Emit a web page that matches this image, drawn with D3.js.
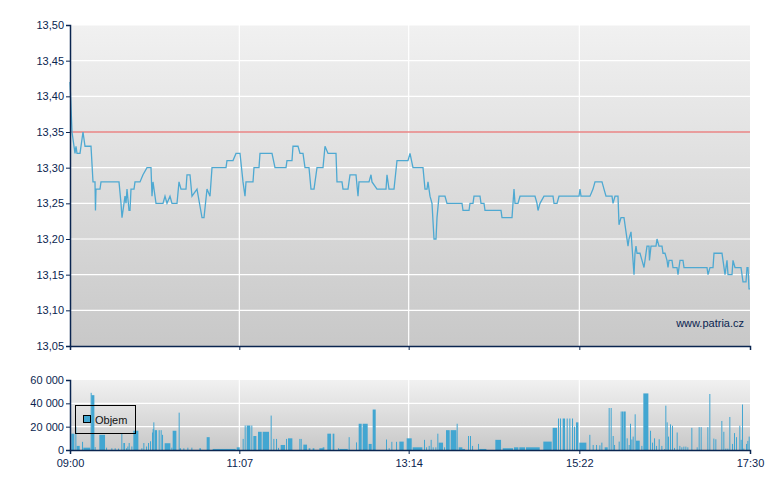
<!DOCTYPE html>
<html><head><meta charset="utf-8">
<script src="https://cdn.jsdelivr.net/npm/d3@7/dist/d3.min.js"></script>
<style>body{margin:0;background:#fff}svg{display:block}text{font-family:"Liberation Sans",Arial,sans-serif;font-size:11px;fill:#0a2550}</style>
</head><body><svg id="c" width="780" height="490"></svg>
<script>
// minutes since 09:00
const priceMinute=[0,1.5,3.75,4.5,5.25,7.5,9,9.75,11.25,15.75,17.25,18.75,19.1,19.5,22.5,23.25,36.75,38.25,39,40.5,41.25,42,42.75,44.25,45,45.75,48,48.75,52.5,54.75,57.75,60.75,61.5,62.25,64.5,69.75,71.25,72.75,75,76.5,80.25,81.75,83.25,87,87.75,90,91.5,95.25,99,100.5,102.75,105,106.5,117,117.75,122.25,124.5,127.5,129.75,130.5,131.25,132,137.25,138,141.75,142.5,151.5,153.75,162,162.75,166.5,167.25,171,172.5,174.75,176.25,179.25,180.75,183,184.5,185.25,189.75,191.25,193.5,199.5,200.25,204,204.75,208.5,210,214.5,216,216.75,224.25,225.75,226.5,230.25,237,237.75,239.25,243,245.25,253.5,255,257.25,264.75,266.25,267.75,268.5,270,271.5,273,274.5,275.25,276.75,281.25,282.75,294,294.75,299.25,300,302.25,303,307.5,308.25,310.5,311.25,323.25,324,331.5,333,333.75,336,337.5,348.75,350.25,351,352.5,355.5,362.25,363,365.25,366.75,381.75,382.5,383.25,390,392.25,393.75,399,400.5,402,406.5,407.25,408.75,411,411.75,413.25,415.5,417,418.5,419.25,420.75,421.5,423,423.75,424.5,425.25,427.5,429,430.5,432.75,434.25,434.6,435.75,439.5,440.25,441.75,444,444.75,446.25,447.75,448.5,449.25,451.5,452.25,455.25,456,457.5,459.75,460.5,477.75,478.5,480,482.25,483,489,489.75,491.25,492.75,493.5,496.5,497.25,498.75,500.25,503.25,504.75,507,507.75,508.5,509.25,510];
const priceValue=[13.42,13.35,13.32,13.33,13.32,13.32,13.34,13.35,13.33,13.33,13.28,13.28,13.24,13.27,13.27,13.28,13.28,13.25,13.23,13.25,13.26,13.25,13.27,13.24,13.24,13.27,13.27,13.28,13.28,13.29,13.30,13.30,13.26,13.28,13.25,13.25,13.26,13.25,13.26,13.25,13.25,13.28,13.27,13.27,13.29,13.29,13.26,13.27,13.23,13.23,13.27,13.26,13.30,13.30,13.31,13.31,13.32,13.32,13.28,13.27,13.26,13.28,13.28,13.30,13.30,13.32,13.32,13.30,13.30,13.31,13.31,13.33,13.33,13.32,13.32,13.30,13.30,13.27,13.27,13.29,13.30,13.30,13.33,13.32,13.32,13.28,13.28,13.27,13.27,13.29,13.29,13.26,13.28,13.28,13.29,13.28,13.27,13.27,13.29,13.27,13.27,13.31,13.31,13.32,13.30,13.30,13.27,13.27,13.28,13.26,13.25,13.20,13.20,13.23,13.26,13.26,13.25,13.25,13.24,13.24,13.25,13.25,13.26,13.26,13.25,13.25,13.24,13.24,13.23,13.23,13.27,13.25,13.25,13.26,13.26,13.25,13.24,13.25,13.26,13.26,13.25,13.25,13.26,13.26,13.27,13.26,13.26,13.27,13.28,13.28,13.27,13.26,13.26,13.25,13.26,13.26,13.22,13.23,13.23,13.21,13.19,13.20,13.21,13.19,13.15,13.18,13.19,13.18,13.18,13.17,13.16,13.19,13.19,13.17,13.19,13.19,13.20,13.19,13.19,13.18,13.18,13.17,13.16,13.17,13.17,13.16,13.16,13.15,13.17,13.17,13.16,13.16,13.15,13.16,13.16,13.18,13.18,13.17,13.15,13.17,13.15,13.15,13.17,13.16,13.16,13.16,13.14,13.14,13.16,13.16,13.13,13.13];
const refPrice=13.35;
const priceTicks=[13.05,13.10,13.15,13.20,13.25,13.30,13.35,13.40,13.45,13.50];
const timeTicks=[0,127,254,382,510];
const timeLabels=["09:00","11:07","13:14","15:22","17:30"];
const volTicks=[0,20000,40000,60000];
// volume bars: from minute, to minute (inclusive), value
const volFrom=[0,1,4,5,9,10,15.5,16,18.5,22,27,31,33.5,36,38.5,40,42,43,44,46,47.5,53.5,55,57,58.5,60,61.5,62,62.5,63.5,66.5,68,69,71,76,77,81.5,82,85,88,91,97,102.5,107,125,129.5,131,132.5,136,137.5,141,144.5,150.5,152.5,154.5,156,158,162,163.5,172,173,175,179,182,187,189.5,193,197,201,202,209,214.5,216.5,219.5,224,227,237,239,241,244.5,247,252.5,257,265.5,267,269,270.5,272,274,275.5,276.5,280.5,282,285.5,290,291.5,293,298.5,300,301.5,306,307,319,324.5,333,337,342,355,362,366,367.5,369.5,372.5,374.5,376.5,378,379.5,382,389.5,392,394.5,397,398.5,401,404,405.5,407,408,411.5,413,414,415,417.5,419,420,421,422,423.5,424.5,428.5,430,435,436.5,438,439.5,441.5,443.5,445.5,446.5,447.5,448.5,450,451.5,453,455,457,458.5,460,461.5,463,466,470,471.5,473,478,479.5,482.5,484,488.5,490,491.5,493,494.5,496.5,498,499.5,502,503,504,505,507,508,509];
const volTo=[0.5,3,4.5,7,9.5,15,15.5,18,19,26,27.5,31.5,34,36.5,38.5,41,42.5,43.5,44.5,46.5,51,54,55.5,57.5,59,60.5,61.5,62,62.5,65,67,68,69.5,75,76.5,79.5,81.5,83,85.5,88.5,91.5,98,104.5,124,127,129.5,131,135,136,139.5,143.5,149,150.5,153,155,156.5,161,162.5,166.5,172,173.5,177.5,180,183,190,190.5,195.5,198,201.5,208,209,214.5,218.5,223,226,229,237,239.5,241,245,250,256,264,265.5,267.5,269.5,270.5,272.5,274.5,275.5,279.5,281,284.5,289.5,290,294,296,298.5,300,302,306,312,323,332,336,341,352,361,365,366,368,371,373,375,377,378.5,381,387,389.5,392.5,395,397.5,399,403,404,405.5,407.5,408.5,412,413,414,416.5,418,419.5,420,421.5,422.5,423.5,427,429,433.5,435.5,437,438.5,440,442,444,446,446.5,447,448,449,450,451.5,453.5,455,456.5,458,459.5,461,462.5,464,468.5,470.5,471.5,477,478.5,481,483,486,488.5,490.5,492,493.5,495.5,497,498,501,502,503.5,504,505.5,507.5,508.5,509.5];
const volValue=[3000,14000,20000,3500,7000,2000,49000,47000,2500,13000,2000,1500,1500,1200,14000,6000,1500,3000,6000,3000,16500,1500,6000,3000,6000,7500,15000,18000,23700,17000,17000,17000,13000,5800,2000,16500,32000,1500,1500,2000,2000,1500,11000,900,2300,9500,21000,21000,21000,12000,15600,15600,29500,9500,9500,1800,4300,9500,10000,9500,9500,4600,1500,1500,1500,2300,14000,14000,1500,900,11000,6500,22500,22500,5200,34700,9000,1500,7000,7000,7200,10000,2300,8700,2300,3500,8700,2300,2300,14000,6300,2300,17000,17000,22500,2300,900,12000,12000,3500,5200,900,8700,1500,2300,2300,2300,7200,19000,27000,27000,27000,27000,27000,27000,20000,23700,6300,13000,4300,4300,4000,6300,2300,36000,36000,12000,4300,7200,33000,33000,33000,10000,4300,22500,9000,11500,30600,8000,3500,48500,16500,6300,10000,3500,9200,3500,700,38000,23700,11500,22000,20800,1800,15000,3500,2300,2900,2900,2300,19000,2300,19600,19600,19600,48000,9800,9200,24900,15600,1200,1200,28300,5200,14500,11000,20800,8700,39000,1200,5200,7800,11500];

const svg=d3.select("#c");
const X0=70,X1=750;
const x=d3.scaleLinear().domain([0,510]).range([X0,X1]);
const y=d3.scaleLinear().domain([13.05,13.50]).range([346,25]);
const yv=d3.scaleLinear().domain([0,60000]).range([450,380]);
const defs=svg.append("defs");
const g=defs.append("linearGradient").attr("id","bg").attr("x1",0).attr("y1",0).attr("x2",0).attr("y2",1);
g.append("stop").attr("offset",0).attr("stop-color","#f1f1f1");
g.append("stop").attr("offset",1).attr("stop-color","#c8c8c8");
svg.append("rect").attr("x",X0).attr("y",25).attr("width",X1-X0).attr("height",321).attr("fill","url(#bg)");
svg.append("rect").attr("x",X0).attr("y",380).attr("width",X1-X0).attr("height",70).attr("fill","url(#bg)");
const grid=svg.append("g").attr("stroke","#fff").attr("stroke-width",1.2);
priceTicks.slice(1).forEach(t=>grid.append("line").attr("x1",X0).attr("x2",X1).attr("y1",y(t)).attr("y2",y(t)));
volTicks.slice(1,3).forEach(t=>grid.append("line").attr("x1",X0).attr("x2",X1).attr("y1",yv(t)).attr("y2",yv(t)));
timeTicks.slice(1,4).forEach(t=>{grid.append("line").attr("x1",x(t)).attr("x2",x(t)).attr("y1",25).attr("y2",346);grid.append("line").attr("x1",x(t)).attr("x2",x(t)).attr("y1",380).attr("y2",450);});
svg.append("line").attr("x1",X0).attr("x2",X1).attr("y1",y(refPrice)).attr("y2",y(refPrice)).attr("stroke","#e04848").attr("stroke-width",1.2);
const pts=priceMinute.map((m,i)=>[m,priceValue[i]]);
svg.append("path").attr("d",d3.line().x(d=>x(d[0])).y(d=>y(d[1]))(pts)).attr("fill","none").attr("stroke","#4ea9d2").attr("stroke-width",1.3);
svg.append("g").selectAll("rect").data(volFrom).join("rect")
 .attr("x",(d,i)=>x(d)).attr("width",(d,i)=>Math.max(1,x(volTo[i]+0.5)-x(d)-0.3))
 .attr("y",(d,i)=>yv(volValue[i])).attr("height",(d,i)=>450-yv(volValue[i])).attr("fill","#42a6d1");
const ac="#0a2550";
const ya=svg.append("g").attr("transform",`translate(${X0},0)`).call(d3.axisLeft(y).tickValues(priceTicks).tickFormat(d=>d3.format(".2f")(d).replace(".",",")).tickSize(4));
const yva=svg.append("g").attr("transform",`translate(${X0},0)`).call(d3.axisLeft(yv).tickValues(volTicks).tickFormat(d=>d3.format(",")(d).replace(/,/g," ")).tickSize(4));
const xa1=svg.append("g").attr("transform","translate(0,346)").call(d3.axisBottom(x).tickValues(timeTicks).tickFormat("").tickSize(4));
const xa2=svg.append("g").attr("transform","translate(0,450)").call(d3.axisBottom(x).tickValues(timeTicks).tickFormat((d,i)=>timeLabels[i]).tickSize(4));
[ya,yva,xa1,xa2].forEach(a=>{a.select(".domain").attr("stroke",ac).attr("stroke-width",1.5);a.selectAll(".tick line").attr("stroke",ac);a.selectAll("text").attr("fill",ac).style("font-size","11px").attr("font-family",null);});
ya.selectAll("text").attr("x",-6);yva.selectAll("text").attr("x",-6);
xa2.selectAll("text").attr("dy","0.9em");
svg.append("text").attr("x",744).attr("y",327).attr("text-anchor","end").text("www.patria.cz");
svg.append("rect").attr("x",75.5).attr("y",405.5).attr("width",60).attr("height",28).attr("fill","none").attr("stroke","#000");
svg.append("rect").attr("x",83.5).attr("y",415.5).attr("width",7).attr("height",7).attr("fill","#42a6d1").attr("stroke","#000");
svg.append("text").attr("x",95).attr("y",424).style("fill","#111").text("Objem");
</script></body></html>
